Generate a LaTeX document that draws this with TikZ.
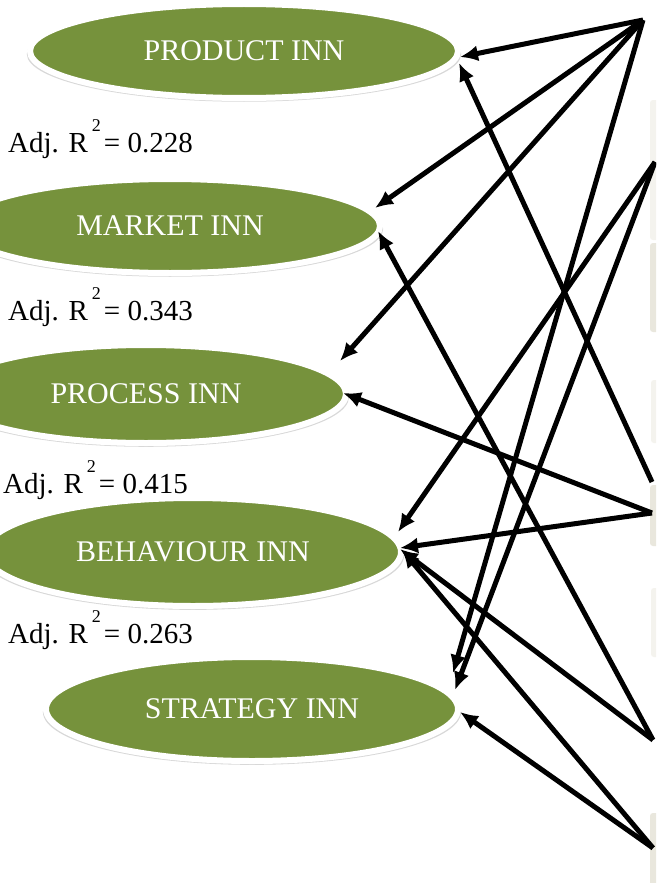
\documentclass[tikz,border=0pt]{standalone}
\usepackage{fontspec}
\setmainfont{Liberation Serif}
\usetikzlibrary{arrows.meta,shapes.geometric,calc,shadows}
\definecolor{inngreen}{HTML}{76923C}
\definecolor{srcbeige}{HTML}{E9E7DD}
\definecolor{srcfaint}{HTML}{F4F3EE}
\begin{document}
\begin{tikzpicture}[x=1pt,y=-1pt,
  inn/.style={ellipse, fill=inngreen, draw=white, line width=6pt, text=white,
    font=\fontsize{30}{30}\selectfont, inner sep=0pt,
    drop shadow={shadow xshift=0pt, shadow yshift=-3pt, opacity=0.3, shadow scale=1.015}},
  adj/.style={anchor=base west, inner sep=0pt, font=\fontsize{29}{29}\selectfont},
  link/.style={draw=black, line width=5pt, -{Latex[length=18pt,width=16pt]}},
  srcbox/.style={fill=srcbeige, rounded corners=3pt},
  srcfaintbox/.style={fill=srcfaint, rounded corners=3pt}
]
\useasboundingbox (0,0) rectangle (656,883);
\clip (0,0) rectangle (656,883);
\fill[white] (0,0) rectangle (656,883);

% partly visible source boxes at the right edge
\path[srcfaintbox] (650,100) rectangle (700,240);
\path[srcbox] (650,243) rectangle (700,332);
\path[srcfaintbox] (651,380) rectangle (700,443);
\path[srcbox] (650,485) rectangle (700,546);
\path[srcfaintbox] (651,588) rectangle (700,657);
\path[srcbox] (650,813) rectangle (700,900);

% dependent constructs
\node[inn, minimum width=428pt, minimum height=94pt] (prod) at (244,51) {PRODUCT INN};
\node[inn, minimum width=420pt, minimum height=94pt] (mkt) at (170,226) {MARKET INN};
\node[inn, minimum width=400pt, minimum height=98pt] (proc) at (146,394) {PROCESS INN};
\node[inn, minimum width=416pt, minimum height=108pt] (beh) at (193,552) {BEHAVIOUR INN};
\node[inn, minimum width=412pt, minimum height=104pt] (strat) at (252,709) {STRATEGY INN};

% adjusted R squared labels
\node[adj] (r1) at (8,152) {Adj. R\kern4pt\raisebox{21pt}{\fontsize{18}{18}\selectfont 2}\kern3pt= 0.228};
\node[adj] (r2) at (8,320) {Adj. R\kern4pt\raisebox{21pt}{\fontsize{18}{18}\selectfont 2}\kern3pt= 0.343};
\node[adj] (r3) at (3,493) {Adj. R\kern4pt\raisebox{21pt}{\fontsize{18}{18}\selectfont 2}\kern3pt= 0.415};
\node[adj] (r4) at (8,643) {Adj. R\kern4pt\raisebox{21pt}{\fontsize{18}{18}\selectfont 2}\kern3pt= 0.263};

% source points (boxes outside the crop)
\coordinate (s1) at (643,20);
\coordinate (s2) at (655,162);
\coordinate (s3) at (652,482);
\coordinate (s4) at (652,513);
\coordinate (s5) at (653,740);
\coordinate (s6) at (653,848);

% connectors
\draw[link] (s1) -- ($(prod.east)+(-1,6)$);
\draw[link] (s1) -- ($(mkt.east)+(-8,-18)$);
\draw[link] (s1) -- ($(proc.east)+(-9,-33)$);
\draw[link] (s1) -- ($(strat.east)+(-8,-36)$);
\draw[link] (s2) -- ($(beh.east)+(-6,-20)$);
\draw[link] (s2) -- ($(strat.east)+(-6,-19)$);
\draw[link] (s3) -- ($(prod.east)+(-2,12)$);
\draw[link] (s4) -- ($(proc.east)+(-6,-1)$);
\draw[link] (s4) -- ($(beh.east)+(-4,-4)$);
\draw[link] (s5) -- ($(mkt.east)+(-5,5)$);
\draw[link] (s5) -- ($(beh.east)+(-4,-3)$);
\draw[link] (s6) -- ($(beh.east)+(-2,-2)$);
\draw[link] (s6) -- ($(strat.east)+(-1,3)$);
\end{tikzpicture}
\end{document}
